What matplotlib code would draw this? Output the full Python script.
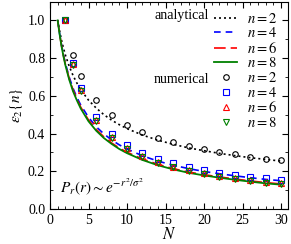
import matplotlib
matplotlib.use("Agg")
import matplotlib.pyplot as plt
from matplotlib.ticker import MultipleLocator

# ============================================================
# DATA
# ============================================================

# analytical curves
N_curve = [1, 1.25, 1.5, 1.75, 2, 2.5, 3, 3.5, 4, 5, 6, 7, 8, 9, 10,
           12, 14, 16, 18, 20, 22, 24, 26, 28, 30]
eps2_ana = [1.0, 0.943, 0.894, 0.853, 0.816, 0.756, 0.707, 0.667, 0.632, 0.577,
            0.535, 0.500, 0.471, 0.447, 0.426, 0.392, 0.365, 0.343, 0.324, 0.309,
            0.295, 0.283, 0.272, 0.263, 0.254]
eps4_ana = [1.0, 0.929, 0.869, 0.817, 0.772, 0.698, 0.639, 0.591, 0.550, 0.486,
            0.436, 0.398, 0.366, 0.340, 0.318, 0.282, 0.254, 0.232, 0.214, 0.199,
            0.187, 0.176, 0.166, 0.157, 0.150]
eps6_ana = [1.0, 0.927, 0.865, 0.813, 0.767, 0.691, 0.630, 0.582, 0.539, 0.472,
            0.422, 0.382, 0.350, 0.323, 0.301, 0.265, 0.237, 0.214, 0.196, 0.182,
            0.170, 0.159, 0.149, 0.140, 0.133]
eps8_ana = [1.0, 0.926, 0.862, 0.809, 0.762, 0.685, 0.623, 0.575, 0.532, 0.465,
            0.415, 0.376, 0.345, 0.318, 0.296, 0.260, 0.232, 0.210, 0.192, 0.178,
            0.166, 0.155, 0.145, 0.136, 0.129]

# numerical points
N_num = [2, 3, 4, 6, 8, 10, 12, 14, 16, 18, 20, 22, 24, 26, 28, 30]
eps2_num = [1.0, 0.816, 0.707, 0.577, 0.500, 0.447, 0.408, 0.378, 0.354, 0.333,
            0.316, 0.302, 0.289, 0.277, 0.267, 0.258]
eps4_num = [1.0, 0.772, 0.639, 0.486, 0.398, 0.340, 0.299, 0.267, 0.243, 0.223,
            0.207, 0.193, 0.181, 0.171, 0.162, 0.154]
eps6_num = [1.0, 0.767, 0.630, 0.472, 0.382, 0.323, 0.282, 0.251, 0.225, 0.205,
            0.189, 0.176, 0.164, 0.153, 0.144, 0.136]
eps8_num = [1.0, 0.762, 0.623, 0.465, 0.376, 0.318, 0.278, 0.246, 0.221, 0.201,
            0.185, 0.172, 0.160, 0.149, 0.140, 0.132]

# ============================================================
# PLOT
# ============================================================

plt.rcParams["font.family"] = ["Liberation Serif", "DejaVu Serif"]
plt.rcParams["mathtext.fontset"] = "stix"
plt.rcParams["font.size"] = 10

fig = plt.figure(figsize=(2.91, 2.44), dpi=100)
ax = fig.add_axes([50 / 291, (244 - 209) / 244, 238 / 291, 207.5 / 244])

ax.plot(N_curve, eps2_ana, color="black", ls=(0, (1.2, 1.8)), lw=1.2, label="$n=2$")
ax.plot(N_curve, eps4_ana, color="blue", ls=(0, (4, 3)), lw=1.2, label="$n=4$")
ax.plot(N_curve, eps6_ana, color="red", ls=(0, (7, 3)), lw=1.2, label="$n=6$")
ax.plot(N_curve, eps8_ana, color="#008000", ls="-", lw=1.3, label="$n=8$")

mk = dict(ls="none", ms=4, mfc="none", mew=0.8)
ax.plot(N_num, eps2_num, marker="o", color="black", label="$n=2$", **mk)
ax.plot(N_num, eps4_num, marker="s", color="blue", label="$n=4$", **mk)
ax.plot(N_num, eps6_num, marker="^", color="red", label="$n=6$", **mk)
ax.plot(N_num, eps8_num, marker="v", color="#008000", label="$n=8$", **mk)

ax.set_xlim(0, 30.9)
ax.set_ylim(0, 1.1)
ax.xaxis.set_major_locator(MultipleLocator(5))
ax.xaxis.set_minor_locator(MultipleLocator(1))
ax.yaxis.set_major_locator(MultipleLocator(0.2))
ax.yaxis.set_minor_locator(MultipleLocator(0.1))
ax.tick_params(which="both", direction="in", top=True, right=True, labelsize=10)
ax.tick_params(which="major", length=4)
ax.tick_params(which="minor", length=2)

ax.set_xlabel("$N$", fontsize=12, labelpad=0)
ax.set_ylabel(r"$\epsilon_2\{n\}$", fontsize=11, labelpad=2)

leg = ax.legend(loc="upper right", frameon=False, handlelength=1.55,
                handletextpad=0.7, labelspacing=0.04, borderaxespad=0.3,
                fontsize=10.5)
ax.text(0.437, 0.931, "analytical", transform=ax.transAxes, fontsize=10, va="center")
ax.text(0.437, 0.625, "numerical", transform=ax.transAxes, fontsize=10, va="center")

ax.text(0.04, 0.08, r"$P_r(r) \sim e^{-r^2/\sigma^2}$", transform=ax.transAxes,
        fontsize=11)

fig.savefig("out.png", dpi=100)
